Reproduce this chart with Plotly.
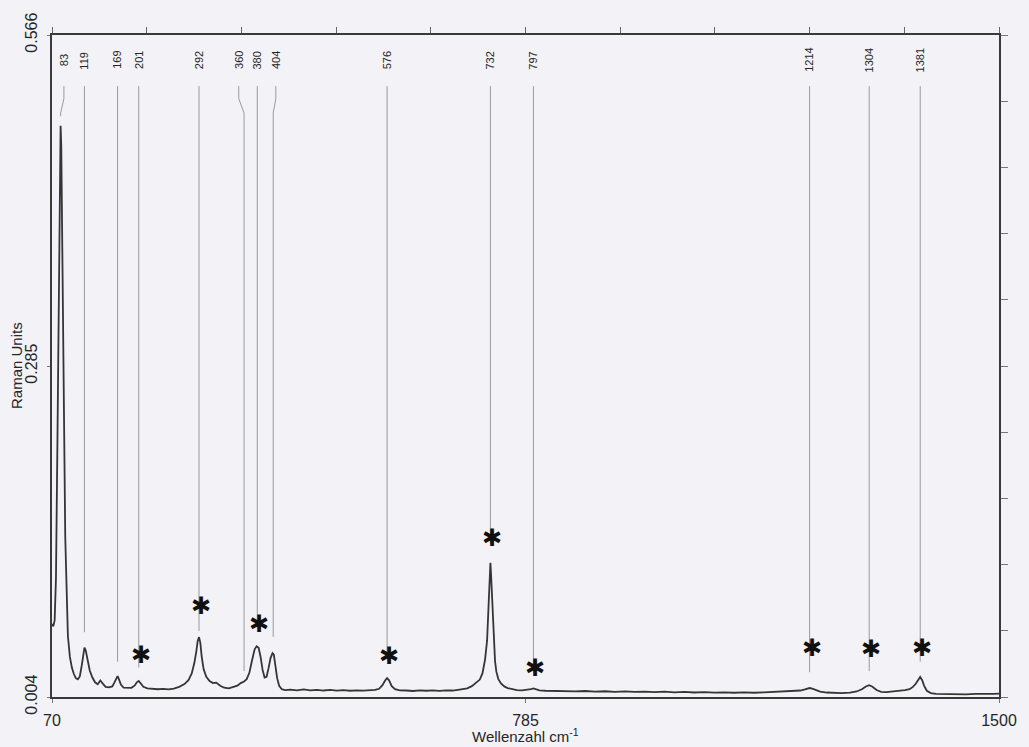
import plotly.graph_objects as go

# Raman spectrum: wavenumber (cm^-1) and intensity (Raman Units)
wavenumber = [
    70, 72, 74, 76, 78, 80, 82, 83, 84, 86, 88, 90, 92, 94, 97, 100, 103, 106, 109, 112,
    115, 117, 119, 121, 124, 127, 131, 135, 139, 143, 147, 151, 156, 161, 164, 167, 169, 171, 174, 178,
    184, 190, 195, 198, 201, 204, 208, 214, 222, 230, 238, 246, 254, 262, 270, 276, 281, 285, 288, 290,
    292, 294, 296, 299, 303, 308, 313, 318, 324, 330, 337, 344, 350, 355, 360, 364, 368, 372, 376, 379,
    382, 385, 388, 391, 394, 397, 400, 403, 405, 407, 410, 413, 417, 422, 430, 440, 450, 460, 470, 480,
    490, 500, 510, 520, 530, 540, 550, 558, 564, 569, 573, 576, 579, 583, 588, 595, 605, 615, 625, 635,
    645, 655, 665, 675, 683, 690, 697, 704, 710, 716, 720, 724, 727, 729, 730, 731, 732, 733, 734, 735,
    737, 739, 741, 744, 748, 753, 758, 765, 772, 780, 788, 793, 797, 801, 806, 815, 830, 845, 860, 875,
    890, 905, 920, 935, 950, 965, 980, 995, 1010, 1025, 1040, 1055, 1070, 1085, 1100, 1115, 1130, 1145, 1160, 1175,
    1190, 1200, 1207, 1211, 1214, 1218, 1223, 1230, 1240, 1250, 1262, 1275, 1285, 1293, 1299, 1304, 1309, 1315, 1322, 1330,
    1340, 1350, 1358, 1365, 1370, 1374, 1378, 1381, 1384, 1387, 1391, 1397, 1405, 1420, 1435, 1450, 1465, 1480, 1492, 1500,
]
intensity = [
    0.066, 0.064, 0.069, 0.105, 0.210, 0.350, 0.465, 0.489, 0.472, 0.380, 0.250, 0.140, 0.085, 0.056, 0.038, 0.029, 0.0235, 0.0200, 0.0190, 0.0215,
    0.0310, 0.0410, 0.0460, 0.0435, 0.0345, 0.0265, 0.0205, 0.0165, 0.0148, 0.0180, 0.0152, 0.0126, 0.0122, 0.0130, 0.0160, 0.0205, 0.0218, 0.0192, 0.0145, 0.0120,
    0.0116, 0.0118, 0.0138, 0.0165, 0.0176, 0.0156, 0.0126, 0.0113, 0.0108, 0.0106, 0.0109, 0.0105, 0.0112, 0.0126, 0.0150, 0.0182, 0.0240, 0.0330, 0.0430, 0.0515,
    0.0548, 0.0500, 0.0385, 0.0275, 0.0212, 0.0176, 0.0158, 0.0162, 0.0136, 0.0119, 0.0113, 0.0124, 0.0136, 0.0158, 0.0172, 0.0192, 0.0245, 0.0350, 0.0445, 0.0470,
    0.0458, 0.0380, 0.0270, 0.0205, 0.0212, 0.0285, 0.0370, 0.0412, 0.0400, 0.0320, 0.0200, 0.0135, 0.0106, 0.0099, 0.0102, 0.0097, 0.0104, 0.0096, 0.0101, 0.0095,
    0.0100, 0.0094, 0.0099, 0.0093, 0.0097, 0.0094, 0.0098, 0.0100, 0.0110, 0.0140, 0.0180, 0.0200, 0.0182, 0.0132, 0.0106, 0.0097, 0.0095, 0.0091, 0.0097, 0.0093,
    0.0096, 0.0092, 0.0097, 0.0095, 0.0101, 0.0105, 0.0113, 0.0132, 0.0158, 0.0188, 0.0240, 0.0360, 0.0520, 0.0750, 0.0940, 0.1080, 0.1180, 0.1080, 0.0940, 0.0760,
    0.0520, 0.0345, 0.0255, 0.0192, 0.0155, 0.0130, 0.0116, 0.0106, 0.0099, 0.0097, 0.0100, 0.0107, 0.0113, 0.0106, 0.0097, 0.0093, 0.0090, 0.0093, 0.0088, 0.0091,
    0.0086, 0.0089, 0.0084, 0.0088, 0.0083, 0.0086, 0.0081, 0.0085, 0.0080, 0.0083, 0.0078, 0.0082, 0.0077, 0.0080, 0.0076, 0.0079, 0.0076, 0.0080, 0.0083, 0.0086,
    0.0089, 0.0095, 0.0104, 0.0112, 0.0116, 0.0111, 0.0098, 0.0086, 0.0078, 0.0075, 0.0073, 0.0077, 0.0087, 0.0106, 0.0129, 0.0140, 0.0127, 0.0099, 0.0084, 0.0082,
    0.0087, 0.0093, 0.0098, 0.0106, 0.0126, 0.0150, 0.0190, 0.0210, 0.0183, 0.0135, 0.0093, 0.0073, 0.0067, 0.0064, 0.0067, 0.0063, 0.0066, 0.0064, 0.0067, 0.0068,
]

# Labelled band positions (cm^-1) and where each leader line stops above its band
peak_pos = [83, 119, 169, 201, 292, 360, 380, 404, 576, 732, 797, 1214, 1304, 1381]
leader_end = [0.497, 0.059, 0.034, 0.029, 0.060, 0.026, 0.070, 0.055, 0.038, 0.134, 0.029, 0.025, 0.026, 0.034]

# Bands marked with an asterisk and the height of each mark
star_pos = [201, 292, 380, 576, 732, 797, 1214, 1304, 1381]
star_level = [0.0395, 0.081, 0.066, 0.039, 0.139, 0.029, 0.046, 0.045, 0.046]

# Axis ranges and tick labels
x_min, x_max = 70, 1500
y_min, y_max = 0.004, 0.566
x_ticks = [70, 785, 1500]
y_ticks = [0.004, 0.285, 0.566]

# ---- styling ----
BG = "#f3f2f6"
INK = "#262626"
FONT = "Liberation Sans Narrow, Liberation Sans, Arial, sans-serif"
label_shift = {83: 5, 360: -8, 404: 4}   # labels nudged sideways where crowded
label_y = 0.5446
lead_top, lead_bend1, lead_bend2 = 0.5226, 0.512, 0.4998
STAR_SIZE = 24

fig = go.Figure()

# leader lines from each band label down towards the band
for p, end in zip(peak_pos, leader_end):
    xl = p + label_shift.get(p, 0)
    fig.add_trace(go.Scatter(
        x=[xl, xl, p, p], y=[lead_top, lead_bend1, lead_bend2, end],
        mode="lines", line=dict(color="#9a9a9a", width=1),
        hoverinfo="skip", showlegend=False,
    ))
    fig.add_annotation(
        x=xl, y=label_y, xref="x", yref="y", text=str(p), textangle=-90,
        showarrow=False, font=dict(family=FONT, size=11, color=INK),
    )

# spectrum
fig.add_trace(go.Scatter(
    x=wavenumber, y=intensity, mode="lines",
    line=dict(color="#353535", width=1.8), showlegend=False,
))

# asterisk marks above the assigned bands
for sx, sy in zip(star_pos, star_level):
    fig.add_annotation(
        x=sx, y=sy, xref="x", yref="y", text="✱", showarrow=False,
        xanchor="center", yanchor="middle", xshift=2,
        font=dict(family="DejaVu Sans", size=STAR_SIZE, color="#111111"),
    )

# invisible trace that anchors the mirrored top/right axes
fig.add_trace(go.Scatter(x=[x_min], y=[y_min], xaxis="x2", yaxis="y2",
                         mode="markers", marker=dict(opacity=0), showlegend=False,
                         hoverinfo="skip"))

x_step = (x_max - x_min) / 10
y_step = (y_max - y_min) / 10

fig.update_layout(
    width=1029, height=747,
    margin=dict(l=52, r=28, t=33, b=50),
    paper_bgcolor=BG, plot_bgcolor=BG,
    font=dict(family=FONT, color=INK),
    xaxis=dict(
        range=[x_min, x_max], tickvals=x_ticks, ticktext=[str(v) for v in x_ticks],
        showgrid=False, zeroline=False, showline=True, linecolor="#3a3a3a", linewidth=1.5,
        ticks="outside", ticklen=4, tickcolor="#777", tickfont=dict(size=16),
        ticklabelstandoff=4,
    ),
    yaxis=dict(
        range=[y_min, y_max], tickvals=y_ticks, ticktext=[f"{v:.3f}" for v in y_ticks],
        showgrid=False, zeroline=False, showline=True, linecolor="#3a3a3a", linewidth=1.5,
        ticks="outside", ticklen=3, tickcolor="#777", tickfont=dict(size=16), tickangle=-90,
        ticklabelstandoff=4,
    ),
    xaxis2=dict(
        overlaying="x", side="top", range=[x_min, x_max],
        tickvals=[x_min + i * x_step for i in range(11)], showticklabels=False,
        showgrid=False, zeroline=False, showline=True, linecolor="#3a3a3a", linewidth=1.5,
        ticks="outside", ticklen=6, tickcolor="#666",
    ),
    yaxis2=dict(
        overlaying="y", side="right", range=[y_min, y_max],
        tickvals=[y_min + i * y_step for i in range(11)], showticklabels=False,
        showgrid=False, zeroline=False, showline=True, linecolor="#3a3a3a", linewidth=1.5,
        ticks="outside", ticklen=7, tickcolor="#777",
    ),
)

fig.add_annotation(
    xref="paper", yref="paper", x=0, y=0.5, xshift=-36, text="Raman Units",
    xanchor="center", yanchor="middle",
    textangle=-90, showarrow=False, font=dict(family=FONT, size=15, color=INK),
)
fig.add_annotation(
    xref="paper", yref="paper", x=0.5, y=0, yshift=-38, text="Wellenzahl cm<sup>-1</sup>",
    xanchor="center", yanchor="middle",
    showarrow=False, font=dict(family=FONT, size=15, color=INK),
)

fig.write_html("out.html")
